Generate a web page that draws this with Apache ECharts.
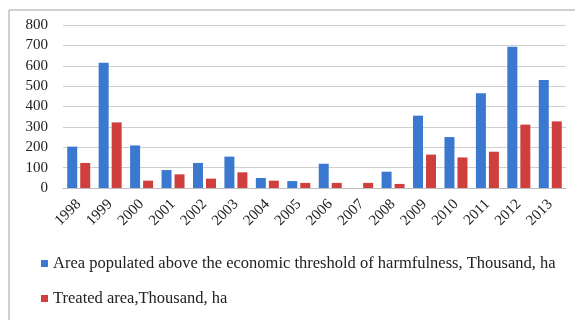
<!DOCTYPE html>
<html>
<head>
<meta charset="utf-8">
<script src="https://cdn.jsdelivr.net/npm/echarts@6/dist/echarts.min.js"></script>
<style>
  html, body { margin: 0; padding: 0; background: #fff; }
  #chart { width: 575px; height: 320px; }
</style>
</head>
<body>
<div id="chart"></div>
<script>
// data
const years = ["1998", "1999", "2000", "2001", "2002", "2003", "2004", "2005",
  "2006", "2007", "2008", "2009", "2010", "2011", "2012", "2013"];
const populatedArea = [203, 615, 209, 88, 123, 154, 49, 34, 119, 0, 80, 355, 250, 465, 693, 530];
const treatedArea = [123, 322, 36, 67, 46, 77, 36, 25, 25, 25, 20, 164, 150, 178, 311, 327];
const seriesNames = [
  "Area populated above the economic threshold of harmfulness, Thousand, ha",
  "Treated area,Thousand, ha"
];

const font = "Liberation Serif";
const chart = echarts.init(document.getElementById("chart"));
chart.setOption({
  animation: false,
  color: ["#3b78cf", "#cf3f3e"],
  graphic: [{
    type: "rect",
    shape: { x: 9, y: 10, width: 700, height: 400 },
    style: { fill: "none", stroke: "#a0a0a0", lineWidth: 1 }
  }],
  grid: { left: 63, right: 9, top: 25, bottom: 132 },
  legend: {
    orient: "vertical",
    left: 36,
    top: 250,
    itemWidth: 7,
    itemHeight: 7,
    itemGap: 18,
    icon: "rect",
    textStyle: { fontFamily: font, fontSize: 16.5, color: "#222" },
    data: seriesNames
  },
  xAxis: {
    type: "category",
    data: years,
    axisLine: { lineStyle: { color: "#bdbdbd" } },
    axisTick: { show: false },
    axisLabel: {
      rotate: 45,
      interval: 0,
      margin: 14,
      fontFamily: font,
      fontSize: 15,
      color: "#222"
    }
  },
  yAxis: {
    type: "value",
    min: 0,
    max: 800,
    interval: 100,
    axisLine: { show: false },
    axisTick: { show: false },
    splitLine: { lineStyle: { color: "#cfcfcf" } },
    axisLabel: { fontFamily: font, fontSize: 15, color: "#222", margin: 15 }
  },
  series: [
    {
      name: seriesNames[0],
      type: "bar",
      data: populatedArea,
      barWidth: 10,
      barGap: "30%",
      barCategoryGap: "27%"
    },
    {
      name: seriesNames[1],
      type: "bar",
      data: treatedArea,
      barWidth: 10
    }
  ]
});
</script>
</body>
</html>
